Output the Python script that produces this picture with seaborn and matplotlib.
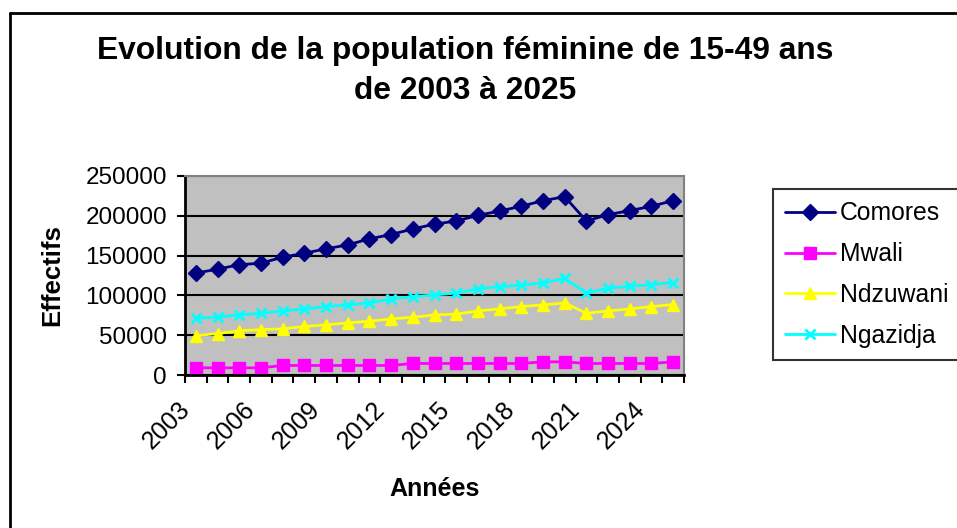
import numpy as np
import pandas as pd
import seaborn as sns
from matplotlib import pyplot as plt
from matplotlib.lines import Line2D
from matplotlib.transforms import ScaledTranslation

# Values
years = list(range(2003, 2026))
comores = [128000, 133000, 138500, 140500, 148000, 153000, 158500, 163500, 171000, 176500, 183500, 189500,
           193500, 200500, 206000, 212000, 219000, 224000, 193500, 201500, 206500, 212000, 219000]
mwali = [9000, 9000, 9000, 9000, 12000, 12000, 12000, 12000, 12000, 12000, 14500, 14500,
         14500, 14500, 14500, 14500, 16500, 16500, 14500, 14500, 14500, 14500, 16500]
ndzuwani = [49500, 52000, 55500, 57000, 58000, 61000, 63000, 65500, 67500, 70500, 72500, 75500,
            76500, 80500, 83000, 86000, 88000, 90500, 77500, 80500, 83000, 86000, 88500]
ngazidja = [71000, 73000, 75500, 77500, 80500, 83000, 86000, 88000, 90500, 95500, 98500, 100500,
            103000, 108000, 111000, 113000, 115500, 121500, 103000, 109000, 111500, 113500, 116000]
series_names = ['Comores', 'Mwali', 'Ndzuwani', 'Ngazidja']
label_years = [2003, 2006, 2009, 2012, 2015, 2018, 2021, 2024]

data = pd.DataFrame({'Année': years * 4,
                     'Effectif': comores + mwali + ndzuwani + ngazidja,
                     'Zone': [n for n in series_names for _ in years]})

colors = {'Comores': '#000080', 'Mwali': '#FF00FF', 'Ndzuwani': '#FFFF00', 'Ngazidja': '#00FFFF'}
markers = {'Comores': 'D', 'Mwali': 's', 'Ndzuwani': '^', 'Ngazidja': 'x'}
msizes = {'Comores': 8, 'Mwali': 8, 'Ndzuwani': 9, 'Ngazidja': 7}

sns.set_style('white')
plt.rcParams['font.family'] = ['Liberation Sans', 'DejaVu Sans']
for key in ['text.color', 'axes.labelcolor', 'xtick.color', 'ytick.color']:
    plt.rcParams[key] = 'black'

fig = plt.figure(figsize=(9.57, 5.28), dpi=100)
ax = fig.add_axes([185 / 957, 1 - 375 / 528, (684 - 185) / 957, (375 - 176) / 528])
ax.set_facecolor('#C0C0C0')

for name in series_names:
    sub = data[data.Zone == name]
    sns.lineplot(data=sub, x='Année', y='Effectif', ax=ax, color=colors[name], marker=markers[name],
                 markersize=msizes[name], markeredgecolor=colors[name], markeredgewidth=2 if name == 'Ngazidja' else 1,
                 linewidth=2, label=name, legend=False)

ax.set_xlim(years[0] - 0.5, years[-1] + 0.5)
ax.set_ylim(0, 250000)
ax.set_yticks(np.arange(0, 250001, 50000))
ax.yaxis.grid(True, color='black', linewidth=1.5)
ax.set_axisbelow(True)

# tick marks on category boundaries, labels on the category centres
ax.set_xticks(np.arange(years[0] - 0.5, years[-1] + 1, 1))
ax.set_xticklabels([])
ax.set_xticks(label_years, minor=True)
ax.set_xticklabels([str(y) for y in label_years], minor=True, rotation=45, ha='right', va='center',
                   rotation_mode='anchor', fontsize=18)
ax.tick_params(axis='x', which='major', direction='out', length=6, width=1.5, color='black', bottom=True)
ax.tick_params(axis='x', which='minor', length=0, pad=22)
ax.tick_params(axis='y', direction='out', length=6, width=1.5, color='black', left=True, labelsize=17.5, pad=7)
shift = ScaledTranslation(-10 / 100, 0, fig.dpi_scale_trans)
for lab in ax.get_xticklabels(minor=True):
    lab.set_transform(lab.get_transform() + shift)

for s in ['left', 'bottom']:
    ax.spines[s].set_color('black')
    ax.spines[s].set_linewidth(2)
for s in ['top', 'right']:
    ax.spines[s].set_color('#808080')
    ax.spines[s].set_linewidth(1.5)

ax.set_xlabel('')
ax.set_ylabel('')
fig.text(52 / 957, 1 - 275 / 528, 'Effectifs', rotation=90, ha='center', va='center',
         fontsize=18.5, fontweight='bold')
fig.text(435 / 957, 1 - 489 / 528, 'Années', ha='center', va='center', fontsize=18, fontweight='bold')
fig.text(465 / 957, 1 - 71 / 528, 'Evolution de la population féminine de 15-49 ans\nde 2003 à 2025',
         ha='center', va='center', fontsize=22.9, fontweight='bold', linespacing=1.45)

handles, labels = ax.get_legend_handles_labels()
leg = fig.legend(handles, labels, loc='upper left', bbox_to_anchor=(773 / 957, 1 - 189 / 528),
                 fontsize=17.8, frameon=True, fancybox=False, edgecolor='black', handlelength=2.0,
                 labelspacing=0.68, borderpad=0.5, handletextpad=0.2, borderaxespad=0)
leg.get_frame().set_linewidth(1.5)

# outer chart border (only left and top edges are visible in the crop)
fig.add_artist(Line2D([9.5 / 957, 9.5 / 957], [0, 1 - 13 / 528], transform=fig.transFigure,
                      color='black', linewidth=2))
fig.add_artist(Line2D([9.5 / 957, 1], [1 - 13 / 528, 1 - 13 / 528], transform=fig.transFigure,
                      color='black', linewidth=2))

plt.savefig('out.png', dpi=100)
